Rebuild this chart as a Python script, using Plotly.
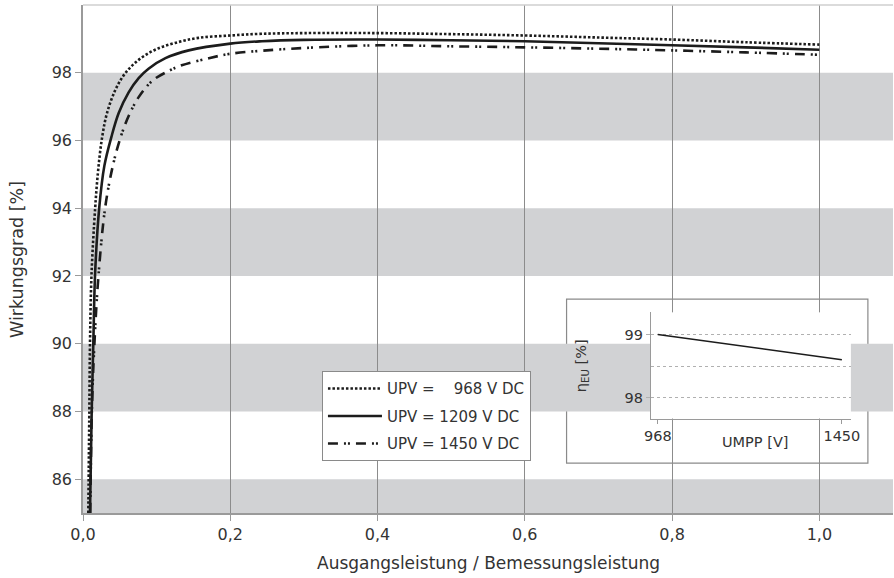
import plotly.graph_objects as go

# ---------------- data ----------------
x_968 = [0.0072, 0.0086, 0.0095, 0.0115, 0.0165, 0.0205, 0.0258, 0.0326, 0.0439, 0.0575, 0.0756, 0.098,
         0.125, 0.157, 0.2, 0.243, 0.3, 0.4, 0.5, 0.6, 0.7, 0.8, 0.9, 1.0]
y_968 = [85.0, 88.0, 90.0, 92.0, 94.0, 95.1, 96.07, 96.81, 97.49, 97.99, 98.38, 98.68,
         98.88, 99.03, 99.10, 99.15, 99.17, 99.17, 99.14, 99.10, 99.04, 98.98, 98.90, 98.83]

x_1209 = [0.0095, 0.0118, 0.014, 0.0165, 0.022, 0.029, 0.0385, 0.0485, 0.062, 0.0756, 0.089, 0.112,
          0.1435, 0.2, 0.243, 0.3, 0.4, 0.5, 0.6, 0.7, 0.8, 0.9, 1.0]
y_1209 = [85.0, 88.0, 90.0, 92.1, 94.0, 95.25, 96.1, 96.81, 97.42, 97.84, 98.12, 98.43,
          98.66, 98.86, 98.93, 98.97, 98.98, 98.96, 98.93, 98.87, 98.81, 98.75, 98.68]

x_1450 = [0.0098, 0.012, 0.0155, 0.021, 0.03, 0.04, 0.0507, 0.062, 0.0756, 0.094, 0.116, 0.134,
          0.171, 0.2, 0.243, 0.3, 0.4, 0.5, 0.6, 0.7, 0.8, 0.9, 1.0]
y_1450 = [85.0, 88.0, 90.0, 92.0, 94.0, 95.2, 96.07, 96.72, 97.28, 97.76, 98.05, 98.22,
          98.43, 98.56, 98.65, 98.73, 98.81, 98.78, 98.75, 98.71, 98.66, 98.60, 98.53]

series_names = ["UPV =\u00a0\u00a0\u00a0 968 V DC", "UPV = 1209 V DC", "UPV = 1450 V DC"]

x_tickvals = [0, 0.2, 0.4, 0.6, 0.8, 1.0]
x_ticktext = ["0,0", "0,2", "0,4", "0,6", "0,8", "1,0"]
y_tickvals = [86, 88, 90, 92, 94, 96, 98]
bands = [(84, 86), (88, 90), (92, 94), (96, 98)]

x_title = "Ausgangsleistung / Bemessungsleistung"
y_title = "Wirkungsgrad [%]"

# inset: European efficiency vs MPP voltage
umpp = [968, 1450]
eta_eu = [99.0, 98.6]
inset_xticks = [968, 1450]
inset_yticks = [98, 99]
inset_ygrid_minor = [98.5]
inset_x_title = "UMPP [V]"
inset_y_title = "η<sub>EU</sub> [%]"

# ---------------- figure ----------------
FONT = "'DejaVu Sans', sans-serif"
TXT = "#333333"
LINE = "#1c1c1c"

fig = go.Figure()

dashes = ["2.5px,2px", "solid", "10px,6px,2px,2px,2px,6px"]
for i, (xs, ys) in enumerate([(x_968, y_968), (x_1209, y_1209), (x_1450, y_1450)]):
    fig.add_trace(go.Scatter(x=xs, y=ys, mode="lines", name=series_names[i], legendgroup=f"g{i}",
                             line=dict(color=LINE, width=2.6, dash=dashes[i], shape="spline", smoothing=1.0)))

fig.add_trace(go.Scatter(x=umpp, y=eta_eu, mode="lines", xaxis="x2", yaxis="y2",
                         showlegend=False, line=dict(color=LINE, width=1.5)))

shapes = []
for lo, hi in bands:
    shapes.append(dict(type="rect", xref="x", yref="y", x0=0, x1=1.1, y0=lo, y1=hi,
                       fillcolor="#d1d2d4", line=dict(width=0), layer="below"))
# inset box
shapes.append(dict(type="rect", xref="paper", yref="paper", x0=0.597, x1=0.969, y0=0.098, y1=0.421,
                   fillcolor="white", line=dict(color="#8a8a8a", width=1.2), layer="between"))
# top frame line
shapes.append(dict(type="line", xref="paper", yref="paper", x0=0, x1=1, y0=1, y1=1,
                   line=dict(color="#cfcfcf", width=1.5), layer="above"))

annotations = [
    dict(text=x_title, xref="paper", yref="paper", x=0.5, y=-0.098, xanchor="center", yanchor="middle",
         showarrow=False, font=dict(family=FONT, size=17, color=TXT)),
    dict(text=y_title, xref="paper", yref="paper", x=-0.0815, y=0.5, xanchor="center", yanchor="middle",
         textangle=-90, showarrow=False, font=dict(family=FONT, size=17.5, color=TXT)),
    dict(text=inset_y_title, xref="paper", yref="paper", x=0.616, y=0.291, xanchor="center", yanchor="middle",
         textangle=-90, showarrow=False, font=dict(family=FONT, size=14.5, color=TXT)),
    dict(text=inset_x_title, xref="paper", yref="paper", x=0.83, y=0.140, xanchor="center", yanchor="middle",
         showarrow=False, font=dict(family=FONT, size=14.5, color=TXT)),
]

fig.update_layout(
    width=894, height=578,
    margin=dict(l=83, r=1, t=5, b=65),
    paper_bgcolor="white", plot_bgcolor="white",
    font=dict(family=FONT, color=TXT, size=15),
    showlegend=True,
    legend=dict(x=0.295, y=0.279, xanchor="left", yanchor="top",
                bgcolor="white", bordercolor="#8a8a8a", borderwidth=1,
                font=dict(family=FONT, size=15, color=TXT), itemwidth=54,
                tracegroupgap=5),
    xaxis=dict(range=[0, 1.1], tickvals=x_tickvals, ticktext=x_ticktext,
               showgrid=True, gridcolor="#8c8c8c", gridwidth=1,
               showline=True, linecolor="#9a9a9a", linewidth=1.5,
               ticks="outside", ticklen=6, tickcolor="#9a9a9a",
               tickfont=dict(size=16, color=TXT), zeroline=False, automargin=False),
    yaxis=dict(range=[85, 100], tickvals=y_tickvals, showgrid=False,
               showline=True, linecolor="#9a9a9a", linewidth=1.5,
               ticks="outside", ticklen=6, tickcolor="#9a9a9a",
               tickfont=dict(size=16, color=TXT), zeroline=False, automargin=False),
    xaxis2=dict(domain=[0.701, 0.948], anchor="y2", range=[949.7, 1473.6],
                tickvals=inset_xticks, showgrid=False, zeroline=False,
                showline=True, linecolor="#9a9a9a", linewidth=1,
                ticks="outside", ticklen=4, tickcolor="#9a9a9a",
                tickfont=dict(size=14.5, color=TXT), automargin=False),
    yaxis2=dict(domain=[0.186, 0.395], anchor="x2", range=[97.67, 99.35],
                tickvals=inset_yticks,
                showgrid=True, gridcolor="#b0b0b0", griddash="dot", gridwidth=1,
                minor=dict(tickvals=inset_ygrid_minor, showgrid=True, gridcolor="#b0b0b0",
                           griddash="dot", gridwidth=1, ticks=""),
                zeroline=False, showline=True, linecolor="#9a9a9a", linewidth=1,
                ticks="outside", ticklen=4, tickcolor="#b0b0b0",
                tickfont=dict(size=14.5, color=TXT), automargin=False),
    shapes=shapes,
    annotations=annotations,
)

fig.write_html("out.html", config={"displayModeBar": False},
               post_script="document.body.style.margin='0';document.body.style.padding='0';")
